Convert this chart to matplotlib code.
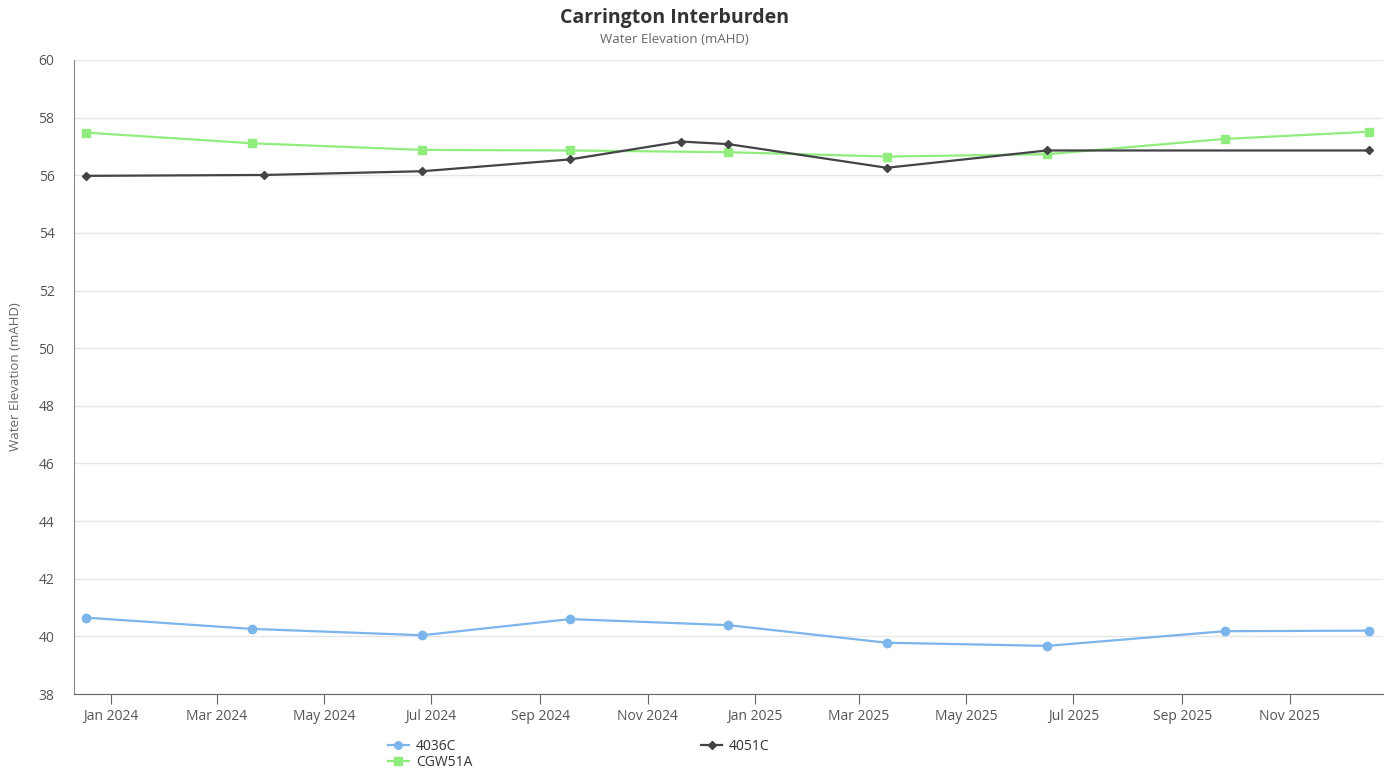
import matplotlib
matplotlib.use("Agg")
import matplotlib.pyplot as plt
import matplotlib.dates as mdates
import pandas as pd

plt.rcParams['font.family'] = ['Open Sans', 'DejaVu Sans']

# readings per bore (dates and water elevation, mAHD)
dates_4036c = ["2023-12-18", "2024-03-21", "2024-06-26", "2024-09-18", "2024-12-17",
               "2025-03-17", "2025-06-16", "2025-09-25", "2025-12-16"]
vals_4036c = [40.65, 40.26, 40.04, 40.60, 40.39, 39.78, 39.67, 40.18, 40.20]

dates_cgw51a = ["2023-12-18", "2024-03-21", "2024-06-26", "2024-09-18", "2024-12-17",
                "2025-03-17", "2025-06-16", "2025-09-25", "2025-12-16"]
vals_cgw51a = [57.48, 57.11, 56.88, 56.86, 56.80, 56.65, 56.73, 57.26, 57.51]

dates_4051c = ["2023-12-18", "2024-03-28", "2024-06-26", "2024-09-18", "2024-11-20",
               "2024-12-17", "2025-03-17", "2025-06-16", "2025-12-16"]
vals_4051c = [55.98, 56.01, 56.14, 56.55, 57.17, 57.08, 56.26, 56.86, 56.86]

fig = plt.figure(figsize=(13.91, 7.72), dpi=100)
ax = fig.add_axes([0.0532, 0.101, 0.941, 0.8213])

ax.plot(pd.to_datetime(dates_4036c), vals_4036c, color="#7cb5ec", lw=1.6,
        marker="o", ms=6, label="4036C", zorder=3)
ax.plot(pd.to_datetime(dates_cgw51a), vals_cgw51a, color="#90ed7d", lw=1.6,
        marker="s", ms=6, label="CGW51A", zorder=3)
ax.plot(pd.to_datetime(dates_4051c), vals_4051c, color="#434348", lw=1.6,
        marker="D", ms=4.5, label="4051C", zorder=4)

ax.set_ylim(38, 60)
ax.set_yticks(range(38, 61, 2))
ax.set_xlim(pd.Timestamp("2023-12-11"), pd.Timestamp("2025-12-24"))
ax.xaxis.set_major_locator(mdates.MonthLocator(bymonth=[1, 3, 5, 7, 9, 11]))
ax.xaxis.set_major_formatter(mdates.DateFormatter("%b %Y"))

ax.grid(axis="y", color="#e6e6e6", lw=1)
ax.set_axisbelow(True)
for s in ["top", "right"]:
    ax.spines[s].set_visible(False)
ax.spines["left"].set_color("#888888")
ax.spines["bottom"].set_color("#666666")
ax.tick_params(axis="y", length=0, labelsize=10, labelcolor="#555555", pad=14)
ax.tick_params(axis="x", length=7, color="#666666", labelsize=10, labelcolor="#555555")

ax.set_ylabel("Water Elevation (mAHD)", fontsize=9.5, color="#666666", labelpad=12)

fig.text(0.485, 0.977, "Carrington Interburden", ha="center", va="center",
         fontsize=14, fontweight="bold", color="#333333")
fig.text(0.485, 0.949, "Water Elevation (mAHD)", ha="center", va="center",
         fontsize=9.5, color="#666666")

handles, labels = ax.get_legend_handles_labels()
fig.legend(handles, labels, loc="center left", bbox_to_anchor=(0.27, 0.0225),
           ncol=2, frameon=False, fontsize=10, columnspacing=16.5,
           handlelength=1.5, handletextpad=0.5, labelspacing=0.05,
           markerscale=0.9, labelcolor="#333333")

fig.savefig("out.png", dpi=100)
